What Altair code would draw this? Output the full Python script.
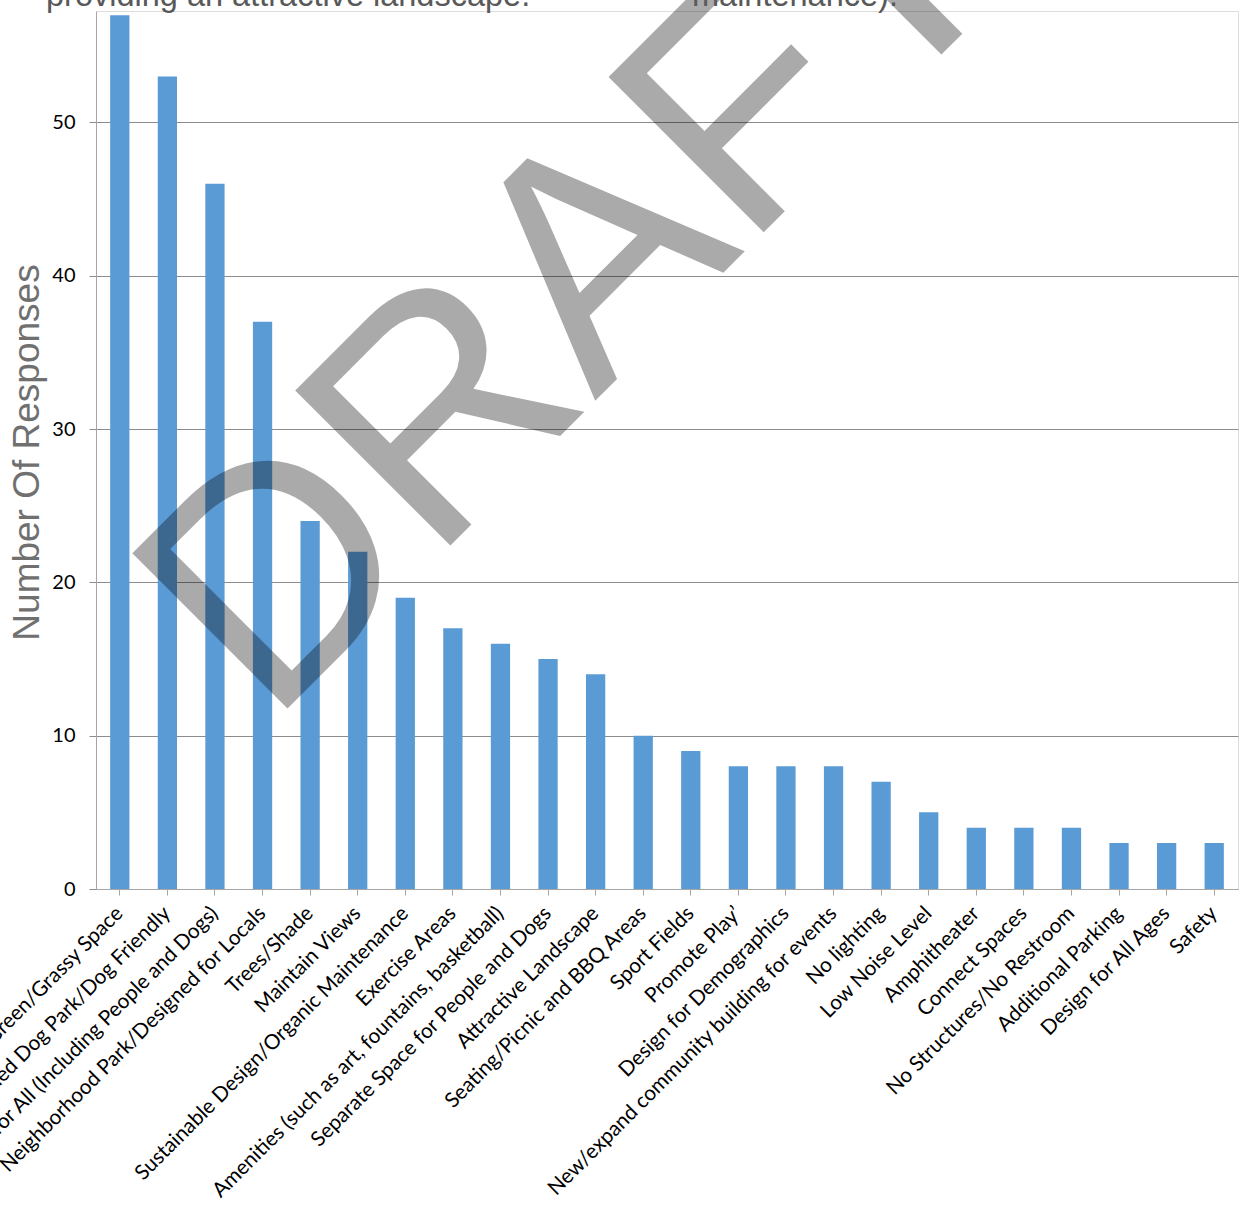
import altair as alt
import pandas as pd

categories = [
    "Open Green/Grassy Space",
    "Designed Dog Park/Dog Friendly",
    "Design for All (Including People and Dogs)",
    "Neighborhood Park/Designed for Locals",
    "Trees/Shade",
    "Maintain Views",
    "Sustainable Design/Organic Maintenance",
    "Exercise Areas",
    "Amenities (such as art, fountains, basketball)",
    "Separate Space for People and Dogs",
    "Attractive Landscape",
    "Seating/Picnic and BBQ Areas",
    "Sport Fields",
    "Promote Play\u2019",
    "Design for Demographics",
    "New/expand community building for events",
    "No lighting",
    "Low Noise Level",
    "Amphitheater",
    "Connect Spaces",
    "No Structures/No Restroom",
    "Additional Parking",
    "Design for All Ages",
    "Safety",
]
responses = [57, 53, 46, 37, 24, 22, 19, 17, 16, 15, 14, 10, 9, 8, 8, 8, 7, 5, 4, 4, 4, 3, 3, 3]
y_ticks = [0, 10, 20, 30, 40, 50]
title_parts = ["providing an attractive landscape.", "maintenance)."]
watermark = ["DRAFT"]

df = pd.DataFrame({"category": categories, "responses": responses})

bars = alt.Chart(df).mark_bar(color="#5B9BD5").encode(
    x=alt.X(
        "category:N",
        sort=None,
        scale=alt.Scale(paddingInner=0.595, paddingOuter=0.2975),
        axis=alt.Axis(
            title=None,
            labelAngle=315,
            labelAlign="right",
            labelBaseline="middle",
            labelFont="Lato",
            labelFontSize=20.8,
            labelColor="#000000",
            labelLimit=2000,
            labelPadding=15,
            labelOverlap=False,
            tickSize=6,
            tickColor="#a6a6a6",
            domainColor="#a6a6a6",
            grid=False,
        ),
    ),
    y=alt.Y(
        "responses:Q",
        scale=alt.Scale(domain=[0, 57.27], nice=False, zero=True),
        axis=alt.Axis(
            title="Number Of Responses",
            values=y_ticks,
            titleFont="Liberation Sans",
            titleFontSize=37,
            titleFontWeight="normal",
            titleColor="#707070",
            titleAngle=270,
            titleAlign="center",
            titleBaseline="alphabetic",
            titleX=-57.5,
            titleY=441,
            labelFont="Lato",
            labelFontSize=20,
            labelColor="#000000",
            labelPadding=14,
            tickSize=7,
            tickColor="#8c8c8c",
            domainColor="#a6a6a6",
            grid=True,
            gridColor="#8c8c8c",
        ),
    ),
)

title_df = pd.DataFrame({"t": [title_parts[0]]})
title_df2 = pd.DataFrame({"t": [title_parts[1]]})
t1 = alt.Chart(title_df).mark_text(
    font="Liberation Sans", fontSize=32.5, color="#595959", align="left", baseline="alphabetic"
).encode(text="t:N", x=alt.value(-50), y=alt.value(-5))
t2 = alt.Chart(title_df2).mark_text(
    font="Liberation Sans", fontSize=32.5, color="#595959", align="left", baseline="alphabetic"
).encode(text="t:N", x=alt.value(596), y=alt.value(-5))

wm = alt.Chart(pd.DataFrame({"w": watermark})).mark_text(
    font="Liberation Sans",
    fontSize=319,
    color="#000000",
    opacity=0.33,
    angle=315,
    align="left",
    baseline="alphabetic",
).encode(text="w:N", x=alt.value(173), y=alt.value(716))

chart = (
    alt.layer(bars, wm, t1, t2)
    .properties(
        width=1142,
        height=878,
        autosize=alt.AutoSizeParams(type="none"),
        padding={"left": 96, "top": 11, "right": 3, "bottom": 332},
    )
    .configure_view(stroke=None)
    .configure(background="#ffffff")
)

chart.save("out.html", embed_options={"renderer": "svg", "actions": False})
